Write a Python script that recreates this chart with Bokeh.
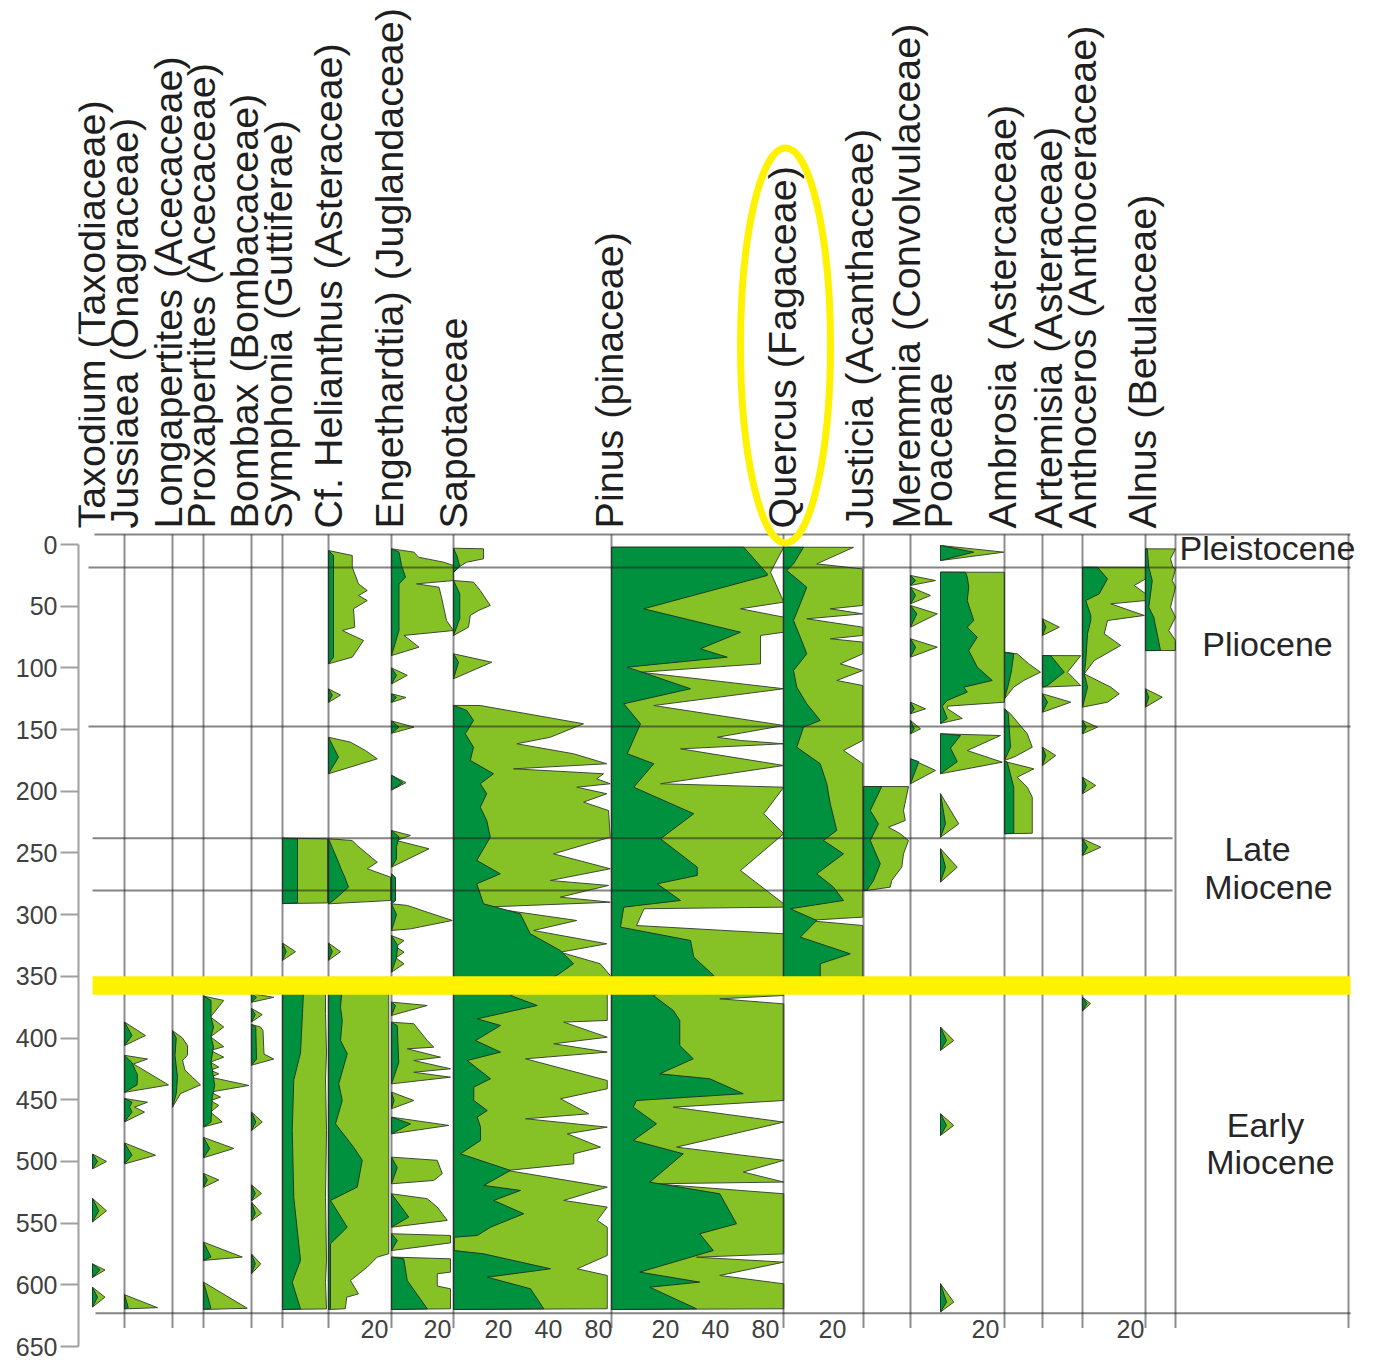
import math
from bokeh.plotting import figure
from bokeh.models import Range1d, FixedTicker
from bokeh.embed import file_html
from bokeh.resources import INLINE
from bokeh.core.properties import value

# ---------------- data: (depth, percent) pairs, dark = actual %, light = exaggerated ----------------
TAXODIUM_LIGHT = [(494,0),(500,5.6),(506,0),(530,0),(540,5.6),(549,0),(583,0),(588,5),(594,0),(602,0),(610,5),(618,0)]
TAXODIUM_DARK = [(494,0),(500,2),(506,0),(530,0),(540,2.5),(549,0),(583,0),(588,3),(594,0),(602,0),(610,2),(618,0)]

JUSSIAEA_LIGHT = [(387,0),(398,8.4),(406,0),(414,0),(417,9.2),(421,3.6),(430,11),(438,17.6),(444,0),(449,0),(452,9.2),(456,4),(460,8),(468,0),(485,0),(495,12.4),(502,0),(608,0),(618.5,13.2),(619.5,0)]
JUSSIAEA_DARK = [(387,0),(398,3),(406,0),(414,0),(420,3),(430,5.2),(438,5),(444,0),(449,0),(452,3),(456,2),(460,3),(468,0),(485,0),(495,3),(502,0),(608,0),(618.5,1.5),(619.5,0)]

LONGAPERTITES_LIGHT = [(394,0),(400,4),(406,6),(414,6),(418,4),(426,5),(438,11.2),(445,3.2),(456,0)]
LONGAPERTITES_DARK = [(394,0),(400,1.5),(414,1),(432,2),(445,1.5),(456,0)]

PROXAPERTITES_LIGHT = [(366,0),(369.5,8.1),(383,2.8),(391,8.1),(399,2.8),(407,8.1),(410,2.8),(415.5,8.1),(419.5,2.8),(423.6,6.1),(426,2.8),(429,6.1),(431.7,2.8),(438.4,18.1),(443.8,2.8),(447.9,6.8),(450.6,2.8),(454.6,6.1),(460,2.8),(468,7.5),(472,0),(480.5,0),(489.5,12.1),(497,0),(509.7,0),(515,6.1),(521,0),(565.4,0),(577.5,15.5),(580.2,0),(597.8,0),(619,17.5),(620,0)]
PROXAPERTITES_DARK = [(366,0),(369.5,3),(383,3),(391,4),(399,3),(407,4),(419.5,3),(438.4,4.5),(447.9,3.5),(468,3),(472,0),(480.5,0),(489.5,2.5),(497,0),(509.7,0),(515,1.5),(521,0),(565.4,0),(577.5,3),(580.2,0),(597.8,0),(619,3),(620,0)]

BOMBAX_LIGHT = [(364,0),(367,8.9),(371,0),(376,0),(381,4.3),(387,0),(389,0),(391,3.6),(394,4.6),(413,5),(417,8.9),(422,0),(460,0),(468,4.3),(475,0),(519,0),(526,4),(532,0),(533,0),(542,4),(548,0),(575,0),(583,3.7),(591,0)]
BOMBAX_DARK = [(364,0),(367,2),(371,0),(376,0),(381,1.5),(387,0),(389,0),(391,1.7),(417,2),(422,0),(460,0),(468,1.7),(475,0),(519,0),(526,1.5),(532,0),(533,0),(542,1.5),(548,0),(575,0),(583,1.5),(591,0)]

SYMPHONIA_LIGHT = [(238,0),(238.5,18),(290.5,18),(291,0),(323,0),(330,5.2),(337,0),(357,0),(357.5,17.2),(380,17.2),(412,17.6),(434,17.2),(475,17.6),(529,17.2),(580,17.6),(598,17.2),(619.5,17.6),(620,0)]
SYMPHONIA_DARK = [(238,0),(238.5,6),(290.5,6),(291,0),(323,0),(330,1.5),(337,0),(357,0),(357.5,8.5),(380,8),(412,7.2),(434,4.5),(475,3.9),(529,4.5),(580,7.2),(598,3.9),(619.5,7.2),(620,0)]

HELIANTHUS_LIGHT = [(4.9,0),(8.9,9.5),(18.4,9.5),(31.9,12),(37.3,15.5),(41.3,12),(45.4,15.5),(52.1,10),(67,10.5),(69.7,5.5),(77.8,14),(91.3,9.5),(96.7,0),
    (117,0),(122,4.8),(128,0),
    (156.2,0),(160.2,8.8),(167,14.8),(173.7,19.5),(185.8,0),
    (238.5,0),(239.9,9.5),(244,11.5),(257.5,19.5),(262.8,15.5),(269.6,24.8),(288.5,24.8),(291.2,0),
    (323,0),(330,4.8),(337,0),
    (357,0),(357.5,24.1),(574.8,24.1),(577.5,19.5),(585.6,15.5),(596.5,8.8),(607.3,12),(610,7.3),(619.4,6.7),(620,0)]
HELIANTHUS_DARK = [(4.9,0),(8.9,2),(91.3,2),(96.7,0),
    (117,0),(122,1.5),(128,0),
    (156.2,0),(172.4,4),(185.8,0),
    (238.5,0),(257.5,4),(262.8,5),(269.6,6.5),(277.7,8),(288.5,2),(291.2,0),
    (323,0),(330,1.5),(337,0),
    (357,0),(357.5,5.5),(375,4.8),(385.7,5.5),(402,4.8),(412.7,7.5),(437,4.1),(450.6,5.5),(469.5,2.8),(488.4,10),(499,13.5),(520.8,11.5),(531.6,0.8),(553.3,7.5),(566.7,0.8),(619.4,0.8),(620,0)]

ENGELHARDTIA_LIGHT = [(3.5,0),(6.2,9),(10.3,10.8),(14.3,20.8),(17,24.8),(29.2,24.8),(31.9,10),(34.6,19),(42.7,20),(61.6,22),(69.7,24.8),(73.7,5),(83.2,11),(90,0),
    (100,0),(106,6.3),(113,0),(121,0),(124,5.8),(128,0),(143,0),(148,9),(153,0),(187,0),(193,5.8),(199,0),
    (231.8,0),(235.8,7.6),(239.9,2),(246.6,15),(261.5,0),(266.9,0),(270,1.6),(288.5,1.6),(291,0),
    (291.2,0),(292.5,6.3),(298,14.3),(304.7,24.3),(311.5,7.6),(312.8,0),
    (317,0),(321,5),(326,1.7),(330.4,5),(335,1.7),(339.8,5),(346.6,0),
    (370.9,0),(373.6,14.3),(381.7,0),
    (387.1,0),(388.4,8.9),(402,14.3),(407.4,16.9),(408.7,6.3),(415.5,19.6),(418.2,8.9),(424.9,23.6),(427.7,8.9),(431.7,23.6),(437.1,0),
    (443.8,0),(450.6,8.9),(457.3,0),
    (464.1,0),(470.8,22.9),(477.6,0),
    (496.5,0),(499.1,18.3),(509.9,20.3),(515.4,16.9),(518.1,0),
    (526.2,0),(530.2,14.3),(537,18.3),(547.8,22.3),(553.3,0),
    (558.6,0),(560,23.6),(566,23.6),(572.2,0),
    (577.5,0),(578.9,23.6),(589.7,23.6),(591,18.3),(601,18.3),(603.2,23.6),(619.4,23.6),(620,0)]
ENGELHARDTIA_DARK = [(3.5,0),(6.2,3),(17,4),(26.5,5.6),(31.9,3),(69.7,3),(90,0),
    (100,0),(106,2),(113,0),(121,0),(124,2),(128,0),(143,0),(148,3),(153,0),(187,0),(193,4.5),(199,0),
    (231.8,0),(237,3),(245,2),(255,2),(261.5,0),(266.9,0),(270,1.6),(288.5,1.6),(291,0),
    (291.2,0),(300,2),(312.8,0),
    (317,0),(325,2.5),(335,2),(346.6,0),
    (370.9,0),(373.6,1.6),(381.7,0),
    (387.1,0),(390,2.3),(420,2.9),(437.1,0),
    (443.8,0),(450.6,1),(457.3,0),
    (464.1,0),(469.5,7.6),(477.6,0),
    (496.5,0),(505,2.3),(518.1,0),
    (526.2,0),(545.1,6.9),(553.3,0),
    (558.6,0),(564,2.3),(572.2,0),
    (577.5,0),(578.9,4.9),(596.5,6.3),(619.4,14.3),(620,0)]

SAPOTACEAE_LIGHT = [(3,0),(3.5,12),(11.6,12),(14.3,5.3),(18.4,2),(22.4,0),
    (29.2,0),(30.5,8),(37.3,10.7),(49.4,14.7),(53.5,10),(57.5,6.7),(67,6),(73.7,0),
    (88.6,0),(95.4,15.3),(108.8,0),
    (130.4,0),(130.5,10.7),(145.3,52),(156.2,38.7),(161.5,25.3),(169.6,48),(177.7,61.3),(181.8,24),(185.8,60),(189.9,57.3),(193.9,62.7),(196.7,49.3),(202,61.3),(208.8,52),(215.6,62),(237.2,62.7),(250.7,40),(262.8,62.7),(272.3,38.7),(276.3,62),(285.8,42.7),(289.9,62.7),(293.9,12),(304.7,49.3),(312.8,32),(323.6,61.3),(330.4,42.7),(339.8,58.7),(349.3,62.7),
    (365.5,61.5),(385.7,61.5),(387.1,44.1),(399.3,61.5),(404.6,40.1),(411.4,61.5),(416.8,28.8),(434.4,61.5),(441.1,61.5),(449.2,42.8),(461.4,54.1),(465.4,28.8),(472.2,61.5),(477.6,45.5),(488.4,58.8),(493.8,48.1),(501.9,48.1),(507.3,21.5),(520.8,61.5),(531.6,44.1),(537,61.5),(547.8,57.5),(553.3,61.5),(576.2,61.5),(587,49.5),(592.4,61.5),(619.4,61.5),(620,0)]
SAPOTACEAE_DARK = [(3,0),(10,1.5),(18,2.5),(22.4,0),
    (29.2,0),(40,2.5),(60,2.5),(73.7,0),
    (88.6,0),(95.4,2),(108.8,0),
    (130.4,0),(134.5,5.3),(142.6,8),(153.4,4.7),(164.3,8),(175,6.7),(185.8,16),(193.9,10.7),(202,13.3),(212.9,10.7),(223.7,13.3),(237.2,14.7),(256,9.3),(266.9,18.7),(275,9.3),(291.2,12),(299.3,26.7),(315.5,30.7),(329,42.7),(339.8,48),(349.3,41.3),
    (365.5,22.8),(373.6,33.5),(384.4,9.5),(389.8,18.8),(402,8.8),(411.4,18.8),(418.2,5.5),(433,14.8),(439.8,8.1),(450.6,8.1),(458.7,13.5),(464.1,9.5),(472.2,10.8),(483,10.8),(493.8,2.8),(507.3,22.8),(519.4,12.1),(523.5,26.8),(531.6,16.1),(542.4,28.1),(553.3,14.8),(560,9.5),(561.4,0.3),(572.2,0.3),(574.9,12.1),(587,38.8),(593.8,13.5),(603.2,30.8),(619.4,36.1),(620,0)]

PINUS_LIGHT = [(2.2,68.9),(22.4,63.6),(46.7,68.9),(52.1,51.6),(58.9,68.9),(71.1,68.9),(73.7,59.6),(96.7,59.6),(103.5,11.6),(116.9,68.9),(130.5,16.9),(146.7,68.9),(156.2,42.3),(158.8,51.6),(161.5,68.9),(165.6,27.6),(179.1,68.9),(193.9,19.6),(196.7,68.9),(218.2,60.9),(234.4,68.9),(264.2,51.6),(291.2,68.9),(293.9,68.9),(295.2,13),(308.8,10),(315.5,68.9),(349.3,68.9),
    (365.5,68.9),(368.2,43.3),(372.3,68.9),(450.6,68.9),(456,24.7),(468.1,68.9),(488.4,26),(499.1,68.9),(508.6,52.7),(516.7,68.9),(518.1,17),(526.2,68.9),(574.9,68.9),(577.6,34),(581.6,68.9),(592.4,43.3),(599.2,68.9),(619.4,68.9),(620,0)]
PINUS_DARK = [(2.2,52.9),(23.8,62.3),(25.1,62.3),(52.1,12.9),(71.1,51.6),(84.5,35.6),(91.3,46.3),(99.4,6.3),(116.9,31.6),(129.1,4.9),(145.3,11.6),(169.6,6.3),(177.7,16.9),(196.7,8.9),(218.2,32.9),(238.5,19.6),(261.5,34.3),(268.2,34.3),(275,18.3),(288.5,27.6),(293.9,4.9),(310.1,3.6),(320.9,31.6),(334.4,32.9),(349.3,40.9),
    (365.5,16.7),(377.6,24.7),(385.7,27.3),(406,27.3),(416.8,32.7),(429,19.3),(433,39.3),(445.1,52.7),(450.6,10),(456,8.7),(469.5,18),(483,8.7),(493.8,28.7),(516.8,15.3),(526.2,43.3),(550.5,50),(558.6,35.3),(572.2,40.7),(589.7,11.3),(597.8,35.3),(601.9,15.3),(619.4,34),(620,0)]

QUERCUS_LIGHT = [(2.2,0),(2.3,28),(15.7,13.3),(19.8,31.7),(49.4,31.7),(52.1,18.7),(56.2,31.7),(60.2,9.3),(67,31.7),(73.7,31.7),(76.4,18.7),(79.1,31.7),(88.6,31.7),(96.7,22.7),(102.1,31.7),(110.2,21.3),(114.3,31.7),(158.8,31.7),(166.9,24),(177.7,31.7),(302,31.7),(304.7,9.3),(308.8,31.7),(352,31.7),(352.1,0)]
QUERCUS_DARK = [(2.2,0),(2.3,8),(15.7,4),(21.1,1.3),(34.6,9.3),(48.1,6.7),(61.6,4),(75.1,6.7),(88.6,9.3),(102.1,4),(115.6,5.3),(129.1,9.3),(142.6,14.7),(148,8),(164.3,5.3),(177.7,14.7),(193.9,17.3),(210.1,18.7),(231.7,21.3),(239.9,16),(250.7,24),(266.9,13.3),(277.7,20),(288.5,24),(295.2,2.7),(304.7,13.3),(318.2,6.7),(331.7,26.7),(339.8,14.7),(352,14.7),(352.1,0)]

JUSTICIA_LIGHT = [(196.1,0),(196.2,18),(215.6,16),(223.7,16.7),(229.1,10),(234.4,14.7),(239.9,18),(250.7,16),(261.5,15.3),(272.3,11.3),(277.7,10.7),(280.4,1.3),(280.5,0)]
JUSTICIA_DARK = [(196.1,0),(196.2,7.3),(215.6,2.7),(226.4,6),(239.9,2.7),(258.8,6.7),(272.3,4),(280.4,1.3),(280.5,0)]

MEREMMIA_LIGHT = [(25.1,0),(29.2,10),(33.2,0),(34.6,0),(41.3,8),(48.1,0),(49.4,0),(56.2,10.7),(67,0),(76.4,0),(83.2,10.7),(91.3,0),(127.8,0),(133.2,6),(137.2,0),(142.6,0),(149.4,4),(153.4,0),(173.7,0),(183.1,10),(193.9,0)]
MEREMMIA_DARK = [(25.1,0),(29.2,2),(33.2,0),(34.6,0),(41.3,2),(48.1,0),(49.4,0),(56.2,2.5),(67,0),(76.4,0),(83.2,2),(91.3,0),(127.8,0),(133.2,1.5),(137.2,0),(142.6,0),(149.4,1.5),(153.4,0),(173.7,0),(176,3.3),(193.9,0)]

POACEAE_LIGHT = [(0.8,0),(6.2,25.3),(13,0),
    (22.4,0),(22.5,25.6),(127.8,25.6),(131,2.7),(133,2.7),(141,8.7),(145,0),
    (153.4,0),(154.8,24),(167,10.7),(176.4,24.7),(185.8,0),
    (202,0),(226.4,7.3),(237.2,0),
    (246.6,0),(261.5,6.7),(273.6,0),
    (391.1,0),(402,5.3),(410,0),(461.4,0),(470.8,5.3),(478.9,0),(599.1,0),(614,5.3),(622,0)]
POACEAE_DARK = [(0.8,0),(6.2,13.3),(13,0),
    (22.4,0),(22.5,10),(26.5,10.7),(34.6,11.3),(45.4,10.7),(61.6,13.3),(67,10.7),(75.1,14.7),(85.9,11.3),(99.4,14.7),(110.2,20.7),(115.6,9.3),(119.6,10.7),(126.4,2.7),(131,0.7),(141,2.7),(145,0),
    (153.4,0),(154.8,8),(165,4),(176,6.7),(185.8,0),
    (202,0),(226.4,2),(237.2,0),
    (246.6,0),(261.5,2),(273.6,0),
    (391.1,0),(402,2.4),(410,0),(461.4,0),(470.8,2.4),(478.9,0),(599.1,0),(614,2.4),(622,0)]

AMBROSIA_LIGHT = [(87.3,0),(88.6,5.1),(96.7,9.7),(103.5,14.4),(110.2,7.7),(115.6,3.7),(125,0),
    (133.2,0),(137.2,2.4),(153.4,9.1),(164.3,11.1),(172.4,3.7),(175,0),
    (175.5,0),(176.4,1.1),(181.8,11.7),(188.6,5.1),(196.7,9.1),(204.8,11.1),(234,11.1),(234.4,0)]
AMBROSIA_DARK = [(87.3,0),(88.6,3.7),(103.5,2.7),(115.6,1.3),(125,0),
    (133.2,0),(137.2,1.5),(164.3,2.4),(175,0),
    (175.5,0),(176.4,1.1),(196.7,3.7),(234,3.7),(234.4,0)]

ARTEMISIA_LIGHT = [(60.2,0),(67,6.7),(73.7,0),(90,0),(90.1,15.3),(103.5,10),(114.3,15.3),(115.6,0),(121,0),(127.8,11.3),(135.9,0),(164.3,0),(171,5.3),(179.1,0)]
ARTEMISIA_DARK = [(60.2,0),(67,1.3),(73.7,0),(90,0),(90.1,3.3),(103.5,8.7),(114.3,2),(115.6,0),(121,0),(127.8,2),(135.9,0),(164.3,0),(171,1.3),(179.1,0)]

ANTHOCEROS_LIGHT = [(18.4,0),(18.5,25.3),(27.8,25.3),(33.2,20.7),(40,25.3),(45.4,25.3),(48.1,11.3),(57.5,24.7),(61.6,10),(72.4,8.7),(81.8,15.3),(94,4.7),(104.8,0.7),(107.5,3.3),(115.6,11.3),(121,14.7),(127.8,10),(131.8,0),
    (142.6,0),(148,6),(153.4,0),(188.6,0),(195.3,5.3),(202,0),(238.5,0),(245.3,7.3),(252,0),(367,0),(372,3.2),(378,0)]
ANTHOCEROS_DARK = [(18.4,0),(18.5,6),(27.8,10),(40,6.7),(45.4,1.3),(57.5,3.3),(61.6,3.3),(72.4,2),(94,1.3),(104.8,0.7),(115.6,2),(131.8,0),
    (142.6,0),(148,1.5),(153.4,0),(188.6,0),(195.3,1.5),(202,0),(238.5,0),(245.3,2),(252,0),(367,0),(372,1.8),(378,0)]

ALNUS_LIGHT = [(3.5,0),(3.6,12),(11.6,10),(18.4,11),(19.7,12),(29.2,10.7),(34.6,12),(50.8,10),(58.9,12),(69.7,9.3),(77.8,12),(85.9,12),(86,0),(117,0),(123.7,6.7),(131.8,0)]
ALNUS_DARK = [(3.5,0),(3.6,0.7),(18.4,1.3),(29.2,2.7),(50.8,1.3),(58.9,3.3),(85.9,6),(86,0),(117,0),(123.7,1.3),(131.8,0)]

TAXA = ["Taxodium (Taxodiaceae)", "Jussiaea (Onagraceae)", "Longapertites (Acecaceae)",
        "Proxapertites (Acecaceae)", "Bombax (Bombacaceae)", "Symphonia (Guttiferae)",
        "Cf. Helianthus (Asteraceae)", "Engethardtia) (Juglandaceae)", "Sapotaceae",
        "Pinus (pinaceae)", "Quercus (Fagaceae)", "Justicia (Acanthaceae)",
        "Meremmia (Convolvulaceae)", "Poaceae", "Ambrosia (Astercaceae)",
        "Artemisia (Asteraceae)", "Anthoceros (Anthoceraceae)", "Alnus (Betulaceae)"]
SERIES = [(TAXODIUM_LIGHT, TAXODIUM_DARK), (JUSSIAEA_LIGHT, JUSSIAEA_DARK),
          (LONGAPERTITES_LIGHT, LONGAPERTITES_DARK), (PROXAPERTITES_LIGHT, PROXAPERTITES_DARK),
          (BOMBAX_LIGHT, BOMBAX_DARK), (SYMPHONIA_LIGHT, SYMPHONIA_DARK),
          (HELIANTHUS_LIGHT, HELIANTHUS_DARK), (ENGELHARDTIA_LIGHT, ENGELHARDTIA_DARK),
          (SAPOTACEAE_LIGHT, SAPOTACEAE_DARK), (PINUS_LIGHT, PINUS_DARK),
          (QUERCUS_LIGHT, QUERCUS_DARK), (JUSTICIA_LIGHT, JUSTICIA_DARK),
          (MEREMMIA_LIGHT, MEREMMIA_DARK), (POACEAE_LIGHT, POACEAE_DARK),
          (AMBROSIA_LIGHT, AMBROSIA_DARK), (ARTEMISIA_LIGHT, ARTEMISIA_DARK),
          (ANTHOCEROS_LIGHT, ANTHOCEROS_DARK), (ALNUS_LIGHT, ALNUS_DARK)]

# per-column percentage ticks: (taxon index, tick values, tick labels, label nudge px)
COL_TICKS = [(6, [20], ["20"], -4), (7, [20], ["20"], -4), (8, [20, 40, 60], ["20", "40", "80"], -5),
             (9, [20, 40, 60], ["20", "40", "80"], 4), (10, [20], ["20"], -1), (13, [20], ["20"], -5),
             (16, [20], ["20"], -2)]
DEPTH_TICKS = list(range(0, 651, 50))
EPOCHS = [("Pleistocene", 3.2), ("Pliocene", 81), ("Late", 246.4), ("Miocene", 277.2),
          ("Early", 470.8), ("Miocene", 500.8)]
EPOCH_X = [1267, 1267, 1257, 1268, 1265, 1270]
EPOCH_LINES = [-8.1, 18.6, 147.5, 238, 280.5, 623]       # depth of horizontal rules
EPOCH_LINE_X = [(94, 1350), (88, 1350), (88, 1350), (92, 1172), (92, 1172), (95, 1350)]
BOUNDARY = (350, 365)     # highlighted Late/Early Miocene boundary

# ---------------- layout ----------------
BASE_X = [92, 124, 172, 203, 251, 282, 328, 391, 453, 611, 783, 863, 910, 940, 1004, 1042, 1082, 1145]
HEADER_X = [90, 123, 167, 200, 243, 277, 327, 388, 452, 608, 781, 858, 905, 937, 1001, 1047, 1081, 1141]
RULE_X = [124, 172, 203, 251, 282, 328, 391, 453, 611, 783, 863, 910, 1004, 1042, 1082, 1145, 1175, 1348]
S = 2.5   # px per percent
DARK = "#00913F"
LIGHT = "#86C226"
YELLOW = "#FFF200"
FONT = "Liberation Sans"


def segments(pairs):
    segs, cur = [], []
    for d, v in pairs:
        if v == 0 and cur and all(vv == 0 for _, vv in cur):
            cur = [(d, v)]
            continue
        cur.append((d, v))
        if v == 0 and len(cur) > 1:
            segs.append(cur)
            cur = []
    if any(vv > 0 for _, vv in cur):
        segs.append(cur)
    return segs


def polys(pairs, base):
    xs, ys = [], []
    for seg in segments(pairs):
        xs.append([base + v * S for _, v in seg] + [base, base])
        ys.append([d for d, _ in seg] + [seg[-1][0], seg[0][0]])
    return xs, ys


p = figure(frame_width=1282, frame_height=1350, x_range=Range1d(78, 1360),
           y_range=Range1d(659.7, -434.4), output_backend="svg", toolbar_location=None,
           x_axis_location=None, min_border_left=78, min_border_right=8,
           min_border_top=8, min_border_bottom=4, outline_line_color=None,
           background_fill_color="white", border_fill_color="white")
p.grid.visible = False

ax = p.yaxis[0]
ax.ticker = FixedTicker(ticks=DEPTH_TICKS)
ax.bounds = (0, 650)
ax.axis_line_color = "#a0a0a0"
ax.axis_line_width = 2
ax.major_tick_line_color = "#a0a0a0"
ax.major_tick_line_width = 2
ax.major_tick_out = 18
ax.major_tick_in = 0
ax.minor_tick_line_color = None
ax.major_label_standoff = 3
ax.major_label_text_font = FONT
ax.major_label_text_font_size = "25px"
ax.major_label_text_color = "#404040"

lx, ly, dx, dy = [], [], [], []
for (light, dark), base in zip(SERIES, BASE_X):
    a, b = polys(light, base)
    lx += a; ly += b
    a, b = polys(dark, base)
    dx += a; dy += b
p.patches(lx, ly, fill_color=LIGHT, line_color="#3d4a35", line_width=1)
p.patches(dx, dy, fill_color=DARK, line_color="#1f3a25", line_width=1)

# rules (semi-transparent so they darken the fills they cross)
p.segment(x0=RULE_X, y0=[EPOCH_LINES[0]] * len(RULE_X), x1=RULE_X, y1=[635] * len(RULE_X),
          line_color="#303030", line_alpha=0.55, line_width=2)
p.segment(x0=[a for a, _ in EPOCH_LINE_X], y0=EPOCH_LINES, x1=[b for _, b in EPOCH_LINE_X],
          y1=EPOCH_LINES, line_color="#202020", line_alpha=0.55, line_width=2)

# boundary highlight
p.quad(left=92, right=1350, top=BOUNDARY[0], bottom=BOUNDARY[1], fill_color=YELLOW, line_color=None)

# headers
p.text(x=HEADER_X, y=[-13] * len(TAXA), text=TAXA, angle=math.pi / 2, text_align="left",
       text_baseline="middle", text_font=value(FONT), text_font_size="39.5px", text_color="#1e1e1e")

# highlight ellipse round Quercus
qi = TAXA.index("Quercus (Fagaceae)")
p.ellipse(x=[HEADER_X[qi] + 4], y=[-161.3], width=[90], height=[320], fill_color=None,
          line_color=YELLOW, line_width=7)

# epoch labels
p.text(x=EPOCH_X, y=[d for _, d in EPOCHS], text=[t for t, _ in EPOCHS], text_align="center",
       text_baseline="middle", text_font=value(FONT), text_font_size="34px", text_color="#262626")

# per-column percentage tick labels
tx, tt = [], []
for i, vals, labs, nudge in COL_TICKS:
    for v, lab in zip(vals, labs):
        tx.append(BASE_X[i] + v * S + nudge)
        tt.append(lab)
p.text(x=tx, y=[636] * len(tx), text=tt, text_align="center", text_baseline="middle",
       text_font=value(FONT), text_font_size="25px", text_color="#404040")

open("out.html", "w").write(file_html(p, INLINE))
